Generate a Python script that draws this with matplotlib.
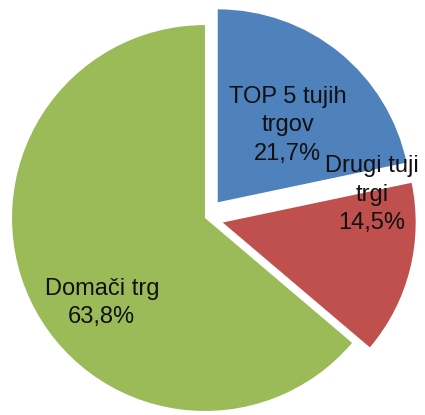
import matplotlib
matplotlib.use("Agg")
import matplotlib.pyplot as plt

# deleži prodaje po trgih (v %)
names = ["TOP 5 tujih\ntrgov", "Drugi tuji\ntrgi", "Domači trg"]
shares = [21.7, 14.5, 63.8]
colors = ["#4F81BD", "#C0504D", "#9BBB59"]
explode = [0.105, 0.095, 0.0]
# središča oznak (v koordinatah osi, polmer = 1)
label_pos = [(0.43, 0.48), (0.865, 0.12), (-0.535, -0.44)]

plt.rcParams["font.family"] = ["Liberation Sans", "DejaVu Sans"]

fig = plt.figure(figsize=(4.25, 4.15), dpi=100)
ax = fig.add_axes([0, 0, 1, 1])
ax.pie(shares, colors=colors, explode=explode, startangle=90,
       counterclock=False, radius=1.0,
       wedgeprops=dict(edgecolor="none", linewidth=0))

for name, val, (x, y) in zip(names, shares, label_pos):
    txt = f"{name}\n{val:.1f}%".replace(".", ",")
    ax.text(x, y, txt, ha="center", va="center", fontsize=17,
            color="#111111", linespacing=1.38)

ax.set_xlim(-1.062, 1.140)
ax.set_ylim(-1.021, 1.130)
ax.set_aspect("equal")
ax.axis("off")

fig.savefig("out.png", dpi=100, facecolor="white")
